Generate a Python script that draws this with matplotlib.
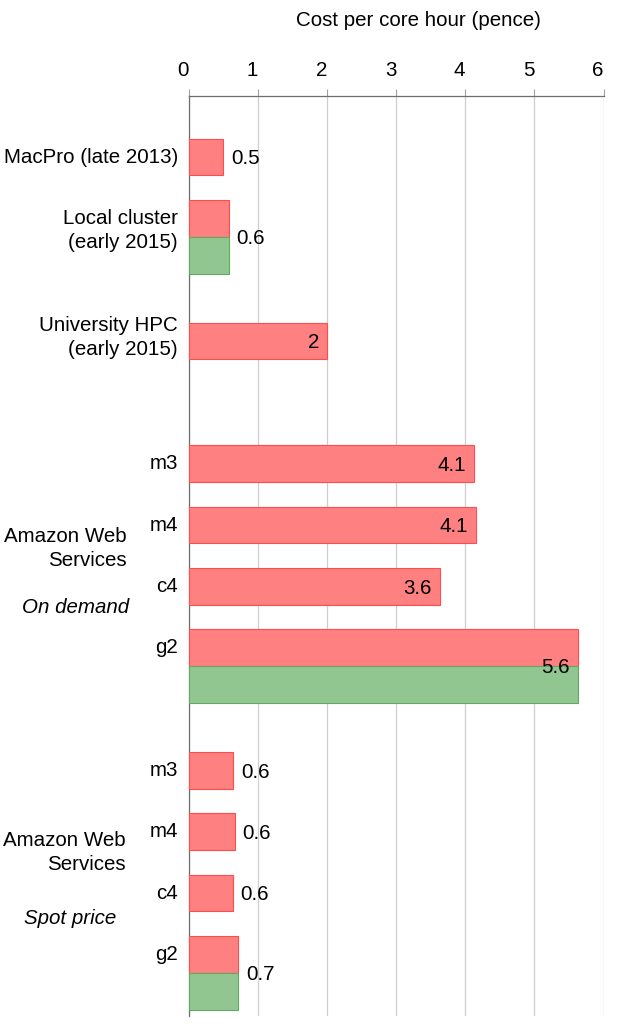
import numpy as np
import matplotlib
matplotlib.use("Agg")
import matplotlib.pyplot as plt
import matplotlib.transforms as mtransforms

plt.rcParams['font.family'] = ['Liberation Sans', 'DejaVu Sans']

# data
categories = ["MacPro (late 2013)", "Local cluster\n(early 2015)", "University HPC\n(early 2015)",
              "m3", "m4", "c4", "g2",
              "m3", "m4", "c4", "g2"]
cost_red = [0.49, 0.57, 2.0, 4.13, 4.16, 3.63, 5.63, 0.64, 0.66, 0.63, 0.71]
cost_green = [np.nan, 0.57, np.nan, np.nan, np.nan, np.nan, 5.63, np.nan, np.nan, np.nan, 0.71]
value_labels = ["0.5", "0.6", "2", "4.1", "4.1", "3.6", "5.6", "0.6", "0.6", "0.6", "0.7"]
xticks = [0, 1, 2, 3, 4, 5, 6]

# layout: row slot of each red bar (gaps separate the groups)
rows = [0, 1, 3, 5, 6, 7, 8, 10, 11, 12, 13]
bar_h = 0.6

W, H = 634, 1024
fig = plt.figure(figsize=(W / 100, H / 100), dpi=100)
ax = fig.add_axes([189.3 / W, 1 - 1015.7 / H, (603.5 - 189.3) / W, (1015.7 - 96.3) / H])

red_fill, red_edge = '#ff8080', '#ff4d4d'
green_fill, green_edge = '#91c691', '#63a863'
fs = 14.8

ax.barh(rows, cost_red, height=bar_h, align='edge', color=red_fill,
        edgecolor=red_edge, linewidth=0.8, zorder=3)
green_rows = [r + bar_h for r, g in zip(rows, cost_green) if not np.isnan(g)]
green_vals = [g for g in cost_green if not np.isnan(g)]
ax.barh(green_rows, green_vals, height=bar_h, align='edge', color=green_fill,
        edgecolor=green_edge, linewidth=0.8, zorder=3)

ax.set_xlim(0, 6)
ax.set_ylim(14.3, -0.69)
ax.set_xticks(xticks)
ax.xaxis.tick_top()
ax.tick_params(axis='x', length=5, width=0.8, color='#a0a0a0', pad=7, labelsize=fs)
# the original puts the tick numbers a little left of their gridlines
shift = mtransforms.ScaledTranslation(-6 / 100, 0, fig.dpi_scale_trans)
for lbl in ax.get_xticklabels():
    lbl.set_transform(lbl.get_transform() + shift)
ax.set_yticks([])
ax.grid(axis='x', color='#cfcfcf', linewidth=0.9, zorder=0)
for s in ['right', 'bottom']:
    ax.spines[s].set_visible(False)
for s in ['top', 'left']:
    ax.spines[s].set_color('#6e6e6e')
    ax.spines[s].set_linewidth(0.9)

# value labels
for r, v, g, lab in zip(rows, cost_red, cost_green, value_labels):
    yc = r + (bar_h if not np.isnan(g) else bar_h / 2) + 0.03
    if v > 1.5:
        ax.annotate(lab, (v, yc), xytext=(-6, 0), textcoords='offset points',
                    ha='right', va='center', fontsize=fs, zorder=4)
    else:
        ax.annotate(lab, (v, yc), xytext=(5.5, 0), textcoords='offset points',
                    ha='left', va='center', fontsize=fs, zorder=4)

# category labels to the left of the axis
trans = mtransforms.blended_transform_factory(fig.transFigure, ax.transData)
label_shift = {1: 0.5, 2: 0.24}
for i, (r, name) in enumerate(zip(rows, categories)):
    y = r + label_shift.get(i, bar_h / 2)
    ax.text(178 / W, y, name, transform=trans, ha='right', va='center',
            fontsize=fs, multialignment='right', linespacing=1.3)

# group labels
ax.text(127 / W, 6.68, "Amazon Web\nServices", transform=trans, ha='right', va='center',
        fontsize=fs, multialignment='right', linespacing=1.3)
ax.text(76 / W, 7.64, "On demand", transform=trans, ha='center', va='center',
        fontsize=fs, style='italic')
ax.text(126 / W, 11.64, "Amazon Web\nServices", transform=trans, ha='right', va='center',
        fontsize=fs, multialignment='right', linespacing=1.3)
ax.text(70 / W, 12.71, "Spot price", transform=trans, ha='center', va='center',
        fontsize=fs, style='italic')

fig.text(418 / W, 1 - 20 / H, "Cost per core hour (pence)", ha='center', va='center', fontsize=fs)

fig.savefig("out.png", dpi=100)
